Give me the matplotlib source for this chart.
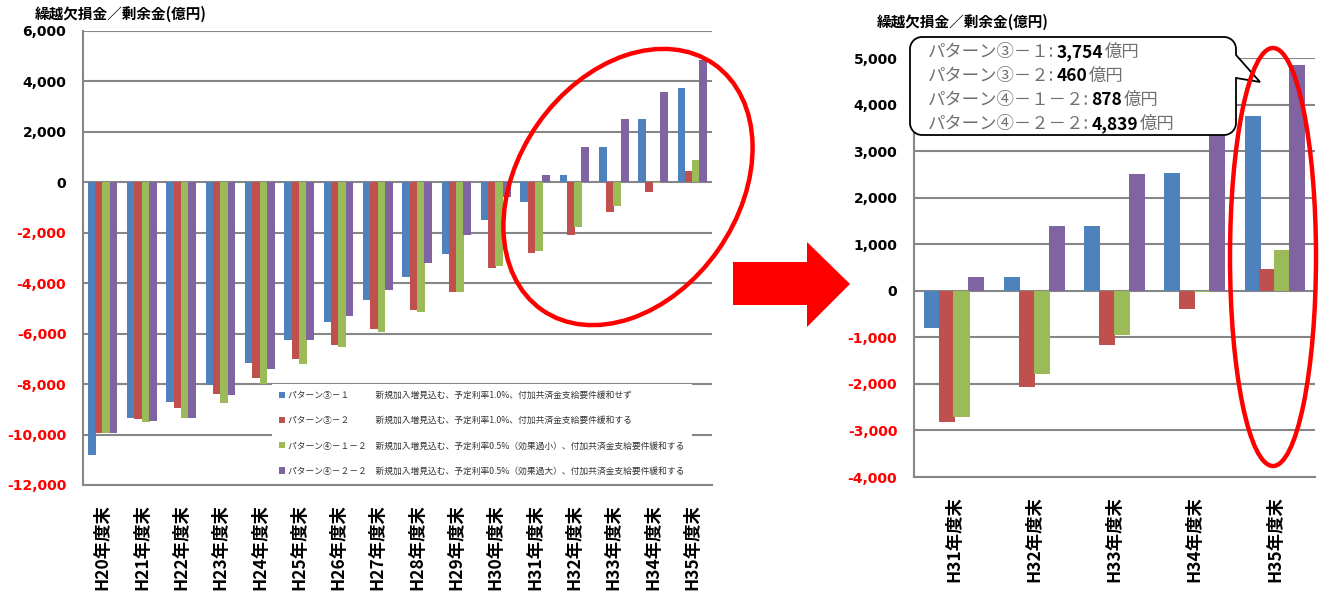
import numpy as np
import matplotlib
matplotlib.use('Agg')
import matplotlib.pyplot as plt
from matplotlib.patches import Ellipse, Polygon

plt.rcParams['font.family'] = ['Noto Sans CJK JP', 'DejaVu Sans']

# 年度ごとの繰越欠損金／剰余金（億円）
years = ['H20', 'H21', 'H22', 'H23', 'H24', 'H25', 'H26', 'H27',
         'H28', 'H29', 'H30', 'H31', 'H32', 'H33', 'H34', 'H35']
pattern_3_1 = [-10800, -9350, -8700, -8040, -7170, -6240, -5550, -4680,
               -3750, -2830, -1510, -790, 300, 1390, 2530, 3754]
pattern_3_2 = [-9950, -9400, -8950, -8400, -7740, -7000, -6460, -5800,
               -5070, -4350, -3390, -2820, -2070, -1170, -400, 460]
pattern_4_1_2 = [-9950, -9500, -9350, -8750, -7980, -7200, -6540, -5920,
                 -5150, -4350, -3310, -2710, -1790, -940, -30, 878]
pattern_4_2_2 = [-9950, -9450, -9350, -8440, -7400, -6240, -5300, -4270,
                 -3190, -2070, -590, 300, 1390, 2510, 3600, 4839]

series_names = ['パターン③－１', 'パターン③－２', 'パターン④－１－２', 'パターン④－２－２']
series_desc = ['新規加入増見込む、予定利率1.0%、付加共済金支給要件緩和せず',
               '新規加入増見込む、予定利率1.0%、付加共済金支給要件緩和する',
               '新規加入増見込む、予定利率0.5%（効果過小）、付加共済金支給要件緩和する',
               '新規加入増見込む、予定利率0.5%（効果過大）、付加共済金支給要件緩和する']
legend_gaps = ['　　　', '　　　', '　', '　']
callout_prefix = ['パターン③－１:', 'パターン③－２:', 'パターン④－１－２:', 'パターン④－２－２:']

left_ticks = list(range(-12000, 6001, 2000))
right_ticks = list(range(-4000, 5001, 1000))
zoom_from = 11  # 右側の拡大図は H31 から

colors = ['#4F81BD', '#C0504D', '#9BBB59', '#8064A2']
grid_color = '#868686'
ytitle = '繰越欠損金／剰余金(億円)'

W, H = 1329, 595
fig = plt.figure(figsize=(W / 100, H / 100), dpi=100)


def axes_px(x0, y0, x1, y1):
    return fig.add_axes([x0 / W, 1 - y1 / H, (x1 - x0) / W, (y1 - y0) / H])


def bar_chart(ax, labels, series, ticks, width=0.2, step=0.185):
    x = np.arange(len(labels))
    bars = []
    for i, (vals, c) in enumerate(zip(series, colors)):
        bars.append(ax.bar(x + (i - 1.5) * step, vals, width, color=c, zorder=3))
    ax.set_xlim(-0.5, len(labels) - 0.5)
    ax.set_ylim(ticks[0], ticks[-1])
    ax.set_xticks(x, [l + '年度末' for l in labels], rotation=90,
                  fontsize=12.5, fontweight='bold')
    ax.set_yticks(ticks, [f'{t:,}' for t in ticks])
    for lab, t in zip(ax.get_yticklabels(), ticks):
        lab.set_color('#FF0000' if t < 0 else 'black')
        lab.set_fontweight('bold')
        lab.set_fontsize(10)
        lab.set_fontfamily('DejaVu Sans')
    ax.tick_params(axis='both', length=0)
    ax.tick_params(axis='y', pad=12)
    ax.tick_params(axis='x', pad=14)
    ax.grid(axis='y', color=grid_color, linewidth=1.5, zorder=0)
    ax.set_axisbelow(True)
    for s in ['top', 'right']:
        ax.spines[s].set_visible(False)
    for s in ['left', 'bottom']:
        ax.spines[s].set_color(grid_color)
        ax.spines[s].set_linewidth(1.5)
    return bars


all_series = [pattern_3_1, pattern_3_2, pattern_4_1_2, pattern_4_2_2]

# 左：H20〜H35 全期間
ax1 = axes_px(83, 31, 712, 485)
bars = bar_chart(ax1, years, all_series, left_ticks)
ax1.legend(bars, [n + g + d for n, g, d in zip(series_names, legend_gaps, series_desc)],
           loc='upper left', bbox_to_anchor=(0.30, 0.2225), borderaxespad=0,
           fontsize=6.3, labelcolor='#333333', frameon=True, fancybox=False,
           facecolor='white', edgecolor='none', framealpha=1,
           handlelength=0.7, handleheight=0.7, handletextpad=0.4,
           labelspacing=1.85, borderpad=0.8)

# 右：H31〜H35 の拡大
ax2 = axes_px(914, 58, 1315, 477)
bar_chart(ax2, years[zoom_from:], [s[zoom_from:] for s in all_series], right_ticks)

fig.text(35 / W, 1 - 14 / H, ytitle, fontsize=10.5, fontweight='bold', va='center')
fig.text(877 / W, 1 - 22 / H, ytitle, fontsize=10.5, fontweight='bold', va='center')

# 装飾用のオーバーレイ（ピクセル座標）
ov = fig.add_axes([0, 0, 1, 1])
ov.set_xlim(0, W)
ov.set_ylim(H, 0)
ov.axis('off')

# 矢印
ov.add_patch(Polygon([(733, 262), (807, 262), (807, 242), (850, 284),
                      (807, 327), (807, 305), (733, 305)],
                     closed=True, facecolor='#FF0000', edgecolor='none'))

# 吹き出し
x0, y0, x1, y1, r = 910, 37, 1236, 135, 12
ya, yb, tip = 55, 78, (1260, 82)


def arc(cx, cy, a0, a1, n=12):
    t = np.radians(np.linspace(a0, a1, n))
    return list(zip(cx + r * np.cos(t), cy + r * np.sin(t)))


pts = [(x0 + r, y0), (x1 - r, y0)]
pts += arc(x1 - r, y0 + r, -90, 0)
pts += [(x1, ya), tip, (x1, yb), (x1, y1 - r)]
pts += arc(x1 - r, y1 - r, 0, 90)
pts += [(x0 + r, y1)]
pts += arc(x0 + r, y1 - r, 90, 180)
pts += [(x0, y0 + r)]
pts += arc(x0 + r, y0 + r, 180, 270)
ov.add_patch(Polygon(pts, closed=True, facecolor='white', edgecolor='black',
                     linewidth=1.3, zorder=4))

fig.canvas.draw()
renderer = fig.canvas.get_renderer()
inv = ov.transData.inverted()
for i, (prefix, s) in enumerate(zip(callout_prefix, all_series)):
    y = 52 + i * 24
    t1 = ov.text(928, y, prefix, fontsize=12.5, color='#707070', va='center', zorder=5)
    bb = t1.get_window_extent(renderer)
    xn = inv.transform((bb.x1, 0))[0] + 2
    t2 = ov.text(xn, y, f'{s[-1]:,}', fontsize=12.5, fontweight='bold',
                 color='black', va='center', zorder=5)
    bb = t2.get_window_extent(renderer)
    xu = inv.transform((bb.x1, 0))[0] + 2
    ov.text(xu, y, '億円', fontsize=12.5, color='#707070', va='center', zorder=5)

# 囲み
ov.add_patch(Ellipse((628, 187), 300, 220, angle=-55, fill=False,
                     edgecolor='#FF0000', linewidth=3.2, zorder=6))
ov.add_patch(Ellipse((1273, 257), 86, 418, fill=False,
                     edgecolor='#FF0000', linewidth=3.2, zorder=6))

fig.savefig('out.png', dpi=100)
